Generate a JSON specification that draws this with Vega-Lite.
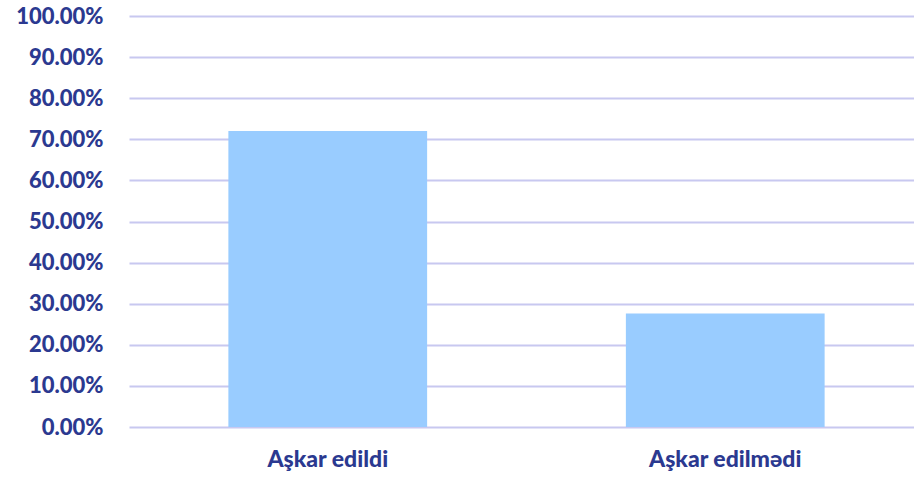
{
  "$schema": "https://vega.github.io/schema/vega-lite/v6.json",
  "width": 795,
  "height": 411,
  "autosize": {"type": "none"},
  "padding": {"left": 129, "top": 16, "right": 0, "bottom": 52},
  "background": "white",
  "data": {"values": [
    {"category": "Aşkar edildi", "value": 0.72},
    {"category": "Aşkar edilmədi", "value": 0.276}
  ]},
  "mark": {"type": "bar", "color": "#99CCFF"},
  "encoding": {
    "x": {
      "field": "category", "type": "nominal", "sort": null,
      "scale": {"paddingInner": 0.5, "paddingOuter": 0.25},
      "axis": {
        "title": null, "labelAngle": 0, "domain": false, "ticks": false,
        "labelFont": "Lato", "labelFontWeight": 900, "labelFontSize": 23,
        "labelColor": "#2B3990", "labelPadding": 21
      }
    },
    "y": {
      "field": "value", "type": "quantitative",
      "scale": {"domain": [0, 1]},
      "axis": {
        "title": null, "format": ".2%", "values": [0,0.1,0.2,0.3,0.4,0.5,0.6,0.7,0.8,0.9,1],
        "labelOverlap": false, "labelFlush": false,
        "domain": false, "ticks": false,
        "gridColor": "#C8C8F0", "gridWidth": 2,
        "labelFont": "Lato", "labelFontWeight": 900, "labelFontSize": 22,
        "labelColor": "#2B3990", "labelPadding": 26
      }
    }
  },
  "config": {"view": {"stroke": null}}
}
